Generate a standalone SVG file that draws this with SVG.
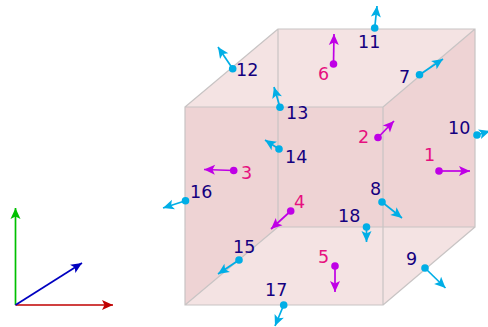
<svg xmlns="http://www.w3.org/2000/svg" width="488" height="327" viewBox="0 0 488 327">
<style>
.f1{fill:#f4e3e3}.f2{fill:#eed3d4}
.e{stroke:#c8c4c4;stroke-width:1.2;fill:none}
.c{fill:none;stroke-width:1.7}
.b{stroke:#00aee6}.m{stroke:#bf00e6}
.db{fill:#00aee6}.dm{fill:#bf00e6}
text{font-family:"DejaVu Sans",sans-serif;font-size:17.5px}
.n{fill:#14007f}.p{fill:#e6107f}
</style>
<defs>
<marker id="hb" markerUnits="userSpaceOnUse" markerWidth="14" markerHeight="12" refX="11" refY="5" orient="auto" overflow="visible"><path d="M11 5L0 0L2.5 5L0 10Z" fill="#00aee6"/></marker>
<marker id="hm" markerUnits="userSpaceOnUse" markerWidth="14" markerHeight="12" refX="11" refY="5" orient="auto" overflow="visible"><path d="M11 5L0 0L2.5 5L0 10Z" fill="#bf00e6"/></marker>
<marker id="hr" markerUnits="userSpaceOnUse" markerWidth="14" markerHeight="12" refX="11" refY="5" orient="auto" overflow="visible"><path d="M11 5L0 0L2.5 5L0 10Z" fill="#c00000"/></marker>
<marker id="hg" markerUnits="userSpaceOnUse" markerWidth="14" markerHeight="12" refX="11" refY="5" orient="auto" overflow="visible"><path d="M11 5L0 0L2.5 5L0 10Z" fill="#00c000"/></marker>
<marker id="hn" markerUnits="userSpaceOnUse" markerWidth="14" markerHeight="12" refX="11" refY="5" orient="auto" overflow="visible"><path d="M11 5L0 0L2.5 5L0 10Z" fill="#0000c0"/></marker>
</defs>
<g id="cube">
<path class="f1" d="M185 107L278 29H475L383 107ZM185 305L278 227H475L383 305Z"/>
<path class="f2" d="M185 107H278V227L185 305ZM278 107H383L475 29V227H278Z"/>
<path class="e" d="M278 29H475V227H278ZM185 107H383V305H185ZM185 107L278 29M383 107L475 29M383 305L475 227M185 305L278 227"/>
</g>
<g id="connectors">
<path class="c" stroke="#c00000" marker-end="url(#hr)" d="M15.5 305H113"/>
<path class="c" stroke="#00c000" marker-end="url(#hg)" d="M15.5 305V208"/>
<path class="c" stroke="#0000c0" marker-end="url(#hn)" d="M15.5 305L82 263"/>
<path class="c m" marker-end="url(#hm)" d="M439 171H470"/>
<path class="c m" marker-end="url(#hm)" d="M378 137.5L394 121"/>
<path class="c m" marker-end="url(#hm)" d="M233.7 170.5L204 169.5"/>
<path class="c m" marker-end="url(#hm)" d="M290.7 211L271 229"/>
<path class="c m" marker-end="url(#hm)" d="M335 266V292"/>
<path class="c m" marker-end="url(#hm)" d="M333.5 64L334 34"/>
<path class="c b" marker-end="url(#hb)" d="M419.5 74.7L443 59"/>
<path class="c b" marker-end="url(#hb)" d="M382 202L402 218"/>
<path class="c b" marker-end="url(#hb)" d="M425 268L445.5 288"/>
<path class="c b" marker-end="url(#hb)" d="M477 135L490 131"/>
<path class="c b" marker-end="url(#hb)" d="M374.7 28L377 6"/>
<path class="c b" marker-end="url(#hb)" d="M232.7 68.7L218 47"/>
<path class="c b" marker-end="url(#hb)" d="M280 107.3L274 87"/>
<path class="c b" marker-end="url(#hb)" d="M279 149L265 140"/>
<path class="c b" marker-end="url(#hb)" d="M239 260L218 274"/>
<path class="c b" marker-end="url(#hb)" d="M185.5 200.7L163 208"/>
<path class="c b" marker-end="url(#hb)" d="M283.7 305L275 326"/>
<path class="c b" marker-end="url(#hb)" d="M366.5 227V242"/>
</g>
<g id="n1"><circle class="dm" cx="439" cy="171" r="3.8"/><text class="p" x="424" y="161">1</text></g>
<g id="n2"><circle class="dm" cx="378" cy="137.5" r="3.8"/><text class="p" x="358" y="143">2</text></g>
<g id="n3"><circle class="dm" cx="233.7" cy="170.5" r="3.8"/><text class="p" x="241" y="179">3</text></g>
<g id="n4"><circle class="dm" cx="290.7" cy="211" r="3.8"/><text class="p" x="294" y="208">4</text></g>
<g id="n5"><circle class="dm" cx="335" cy="266" r="3.8"/><text class="p" x="318" y="263">5</text></g>
<g id="n6"><circle class="dm" cx="333.5" cy="64" r="3.8"/><text class="p" x="318" y="80">6</text></g>
<g id="n7"><circle class="db" cx="419.5" cy="74.7" r="3.8"/><text class="n" x="399" y="83">7</text></g>
<g id="n8"><circle class="db" cx="382" cy="202" r="3.8"/><text class="n" x="370" y="195">8</text></g>
<g id="n9"><circle class="db" cx="425" cy="268" r="3.8"/><text class="n" x="406" y="265">9</text></g>
<g id="n10"><circle class="db" cx="477" cy="135" r="3.8"/><text class="n" x="448" y="134">10</text></g>
<g id="n11"><circle class="db" cx="374.7" cy="28" r="3.8"/><text class="n" x="358" y="48">11</text></g>
<g id="n12"><circle class="db" cx="232.7" cy="68.7" r="3.8"/><text class="n" x="236" y="76">12</text></g>
<g id="n13"><circle class="db" cx="280" cy="107.3" r="3.8"/><text class="n" x="286" y="119">13</text></g>
<g id="n14"><circle class="db" cx="279" cy="149" r="3.8"/><text class="n" x="285" y="163">14</text></g>
<g id="n15"><circle class="db" cx="239" cy="260" r="3.8"/><text class="n" x="233" y="253">15</text></g>
<g id="n16"><circle class="db" cx="185.5" cy="200.7" r="3.8"/><text class="n" x="190" y="198">16</text></g>
<g id="n17"><circle class="db" cx="283.7" cy="305" r="3.8"/><text class="n" x="265" y="296">17</text></g>
<g id="n18"><circle class="db" cx="366.5" cy="227" r="3.8"/><text class="n" x="338" y="222">18</text></g>
</svg>
